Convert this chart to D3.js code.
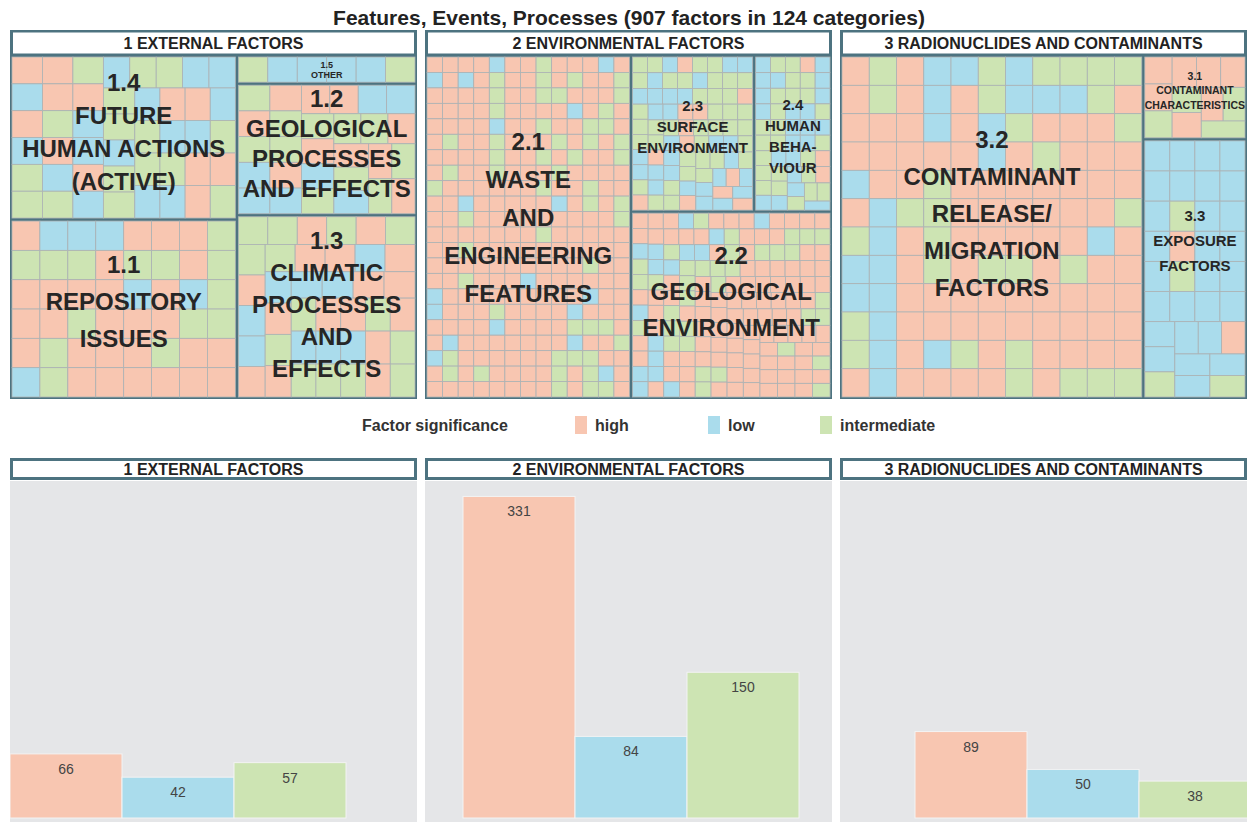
<!DOCTYPE html>
<html>
<head>
<meta charset="utf-8">
<script src="https://cdn.jsdelivr.net/npm/d3@7"></script>
<style>
    body { margin: 0; background: #fff; }
    svg { display: block; font-family: Arial, 'Liberation Sans', sans-serif; }
</style>
</head>
<body>
<div id="chart"></div>
<script>
// ---- data ----
const title = 'Features, Events, Processes (907 factors in 124 categories)'
const groups = ['1 EXTERNAL FACTORS', '2 ENVIRONMENTAL FACTORS', '3 RADIONUCLIDES AND CONTAMINANTS']
const significance = ['high', 'low', 'intermediate']
const highCounts = [66, 331, 89]
const lowCounts = [42, 84, 50]
const intermediateCounts = [57, 150, 38]

const subgroupLabels = {
    '1.1': ['1.1', 'REPOSITORY', 'ISSUES'],
    '1.2': ['1.2', 'GEOLOGICAL', 'PROCESSES', 'AND EFFECTS'],
    '1.3': ['1.3', 'CLIMATIC', 'PROCESSES', 'AND', 'EFFECTS'],
    '1.4': ['1.4', 'FUTURE', 'HUMAN ACTIONS', '(ACTIVE)'],
    '1.5': ['1.5', 'OTHER'],
    '2.1': ['2.1', 'WASTE', 'AND', 'ENGINEERING', 'FEATURES'],
    '2.2': ['2.2', 'GEOLOGICAL', 'ENVIRONMENT'],
    '2.3': ['2.3', 'SURFACE', 'ENVIRONMENT'],
    '2.4': ['2.4', 'HUMAN', 'BEHA-', 'VIOUR'],
    '3.1': ['3.1', 'CONTAMINANT', 'CHARACTERISTICS'],
    '3.2': ['3.2', 'CONTAMINANT', 'RELEASE/', 'MIGRATION', 'FACTORS'],
    '3.3': ['3.3', 'EXPOSURE', 'FACTORS']
}
// one letter per factor: H = high, L = low, I = intermediate
const factorCodes = {
    '1.1': 'HIHHHLL' + 'IHHIILL' + 'HHHIIHI' + 'HHHIIHI' + 'HHHHLHL' + 'IHHHHII' + 'IHHHHH',
    '1.2': 'IHILL' + 'HIIHL' + 'HHLLI' + 'HLIII' + 'HHILH' + 'IIH',
    '1.3': 'IIHIH' + 'IIHLL' + 'HIHHL' + 'HLHIH' + 'LLHHI' + 'LIHLI' + 'HIHLI' + 'HIHI',
    '1.4': 'HLHLIIH' + 'HIHLIIH' + 'LLHLLII' + 'LLIILII' + 'LHHLIIL' + 'LLIILHH' + 'HI',
    '1.5': 'ILLLLI',
    '2.1': 'HHHHLHHIHHHLH' + 'LHLHIHHIHIHHI' + 'HHHHIHHIIHHHI' + 'HHHHIHHHHLHIH' +
           'HHHHLHHIHHIIH' + 'HIHHIHHHIHIHI' + 'HHHHIHHIHIHHI' + 'HIHHIHHHIHHHH' +
           'IHHHHHHIHHIHH' + 'HHHHHHLLHHLHH' + 'HLHHHHHLHIHIH' + 'HHHHHHHLIIHIH' +
           'HHHHHHHHIHIHI' + 'HHHHHHHHHHHIH' + 'HHHHHHHHHHHHI' + 'HHHHHHHHHHHHH' +
           'ILHHHHHHHHHIH' + 'HHHHHHHHHLHHH' + 'HHHHHHHHHHHHH' + 'LHHHHHHHHHLHH' +
           'HHHIIIIIIHLIH' + 'HHHIIIIHHLIHH',
    '2.2': 'HHLIIHLIHHLL' + 'HHLIHHHLHHHH' + 'HLLIHHHLLLHH' + 'HHLIHHHIIIIL' +
           'HHIIIHHLLLHI' + 'HIIIHHIIIHII' + 'HHHIIIHHHHHH' + 'HHHHHHIIIHHH' +
           'HHHHHHHHHIHH' + 'HHHHHIHHHHHH' + 'HHHHIIHHHHHH' + 'HHHHHHHHIHHH' + 'HHHIHHHI',
    '2.3': 'IILHIILLIL' + 'IILIIILLLL' + 'IIIHIIILLI' + 'HLLHHIIIII' +
           'HLLIIHIIII' + 'LLLIIHILLI' + 'IILHIILIIL' + 'LLHLHLLH',
    '2.4': 'LIIHL' + 'LLIIL' + 'LIIIL' + 'LILLI' + 'IILLL' + 'IILLI' + 'IIILL' + 'LIHII' + 'LLIHL' + 'IIIL',
    '3.1': 'HHIHHHIHHII',
    '3.2': 'HIHLLILIIII' + 'HIHLHILLLI' + 'HHHLHILLII' + 'HHHLHLIHHH' + 'IHHLLLLLLL' +
           'HHHLHIHHHH' + 'IHHHHHHIHH' + 'HHHHHIIIHH' + 'LHHHHHHHIH' + 'HHHIHHHHHL' +
           'HIHHHHIHIH' + 'HHHIIHHHHH' + 'HHHHHHIHHII',
    '3.3': 'LLLLL' + 'LLLLI' + 'LLLHL' + 'LLILL' + 'LLLLL' + 'LILLH' + 'LLLI'
}
const codeNames = {H: 'high', L: 'low', I: 'intermediate'}

// ---- layout & styles ----
// how the subgroups are nested in each panel: columns / rows alternate by depth
const arrangement = [
    [['1.4', '1.1'], ['1.5', '1.2', '1.3']],
    ['2.1', [['2.3', '2.4'], '2.2']],
    ['3.2', ['3.1', '3.3']]
]

const teal = '#4d7380'
const color = d3.scaleOrdinal()
    .domain(significance)
    .range(['#f8c6b1', '#aadcec', '#cde4b3'])

// label size / line spacing / vertical nudge per subgroup
const labelStyle = {
    '1.1': [24, 37, -8], '1.2': [24, 30, -6], '1.3': [24, 32, -3], '1.4': [24, 33, -6],
    '1.5': [9, 10, 0], '2.1': [24, 38, -10], '2.2': [24, 36, -14], '2.3': [15, 21, -7],
    '2.4': [15, 21, 3], '3.1': [10.5, 14.5, -7], '3.2': [24, 37, -14], '3.3': [15, 25, -28]
}

const width = 1250
const height = 827
const panelX = [10, 425, 840]
const panelW = 407
const barShift = [0, 38, 75]

const svg = d3.select('#chart')
    .append('svg')
    .attr('width', width)
    .attr('height', height)

svg.append('text')
    .attr('x', 629)
    .attr('y', 25)
    .attr('text-anchor', 'middle')
    .attr('font-size', 21)
    .attr('font-weight', 'bold')
    .attr('fill', '#222')
    .text(title)

function build (item) {
    if (typeof item === 'string') {
        return {
            id: item,
            children: factorCodes[item].split('').map(c => ({sig: codeNames[c]}))
        }
    }
    return {children: item.map(build)}
}

function tile (node, x0, y0, x1, y1) {
    if (node.data.id) d3.treemapSquarify.ratio(1)(node, x0, y0, x1, y1)
    else if (node.depth % 2 === 0) d3.treemapDice(node, x0, y0, x1, y1)
    else d3.treemapSlice(node, x0, y0, x1, y1)
}

// ---- treemaps ----
groups.forEach((g, gi) => {
    const x0 = panelX[gi]
    const panel = svg.append('g')

    panel.append('rect')
        .attr('x', x0)
        .attr('y', 30)
        .attr('width', panelW)
        .attr('height', 369)
        .attr('fill', teal)

    panel.append('rect')
        .attr('x', x0 + 3)
        .attr('y', 32.5)
        .attr('width', panelW - 6)
        .attr('height', 21)
        .attr('fill', '#fff')

    panel.append('text')
        .attr('x', x0 + panelW / 2)
        .attr('y', 49)
        .attr('text-anchor', 'middle')
        .attr('font-size', 16)
        .attr('font-weight', 'bold')
        .attr('fill', '#222')
        .text(g)

    const root = d3.hierarchy(build(arrangement[gi]))
        .sum(d => d.children ? 0 : 1)

    d3.treemap()
        .size([panelW - 4, 340])
        .tile(tile)
        .paddingInner(n => n.data.id ? 0 : 3)(root)

    const tm = panel.append('g')
        .attr('transform', `translate(${x0 + 2}, 57)`)

    tm.selectAll('rect.cell')
        .data(root.leaves())
        .join('rect')
        .attr('class', 'cell')
        .attr('x', d => d.x0)
        .attr('y', d => d.y0)
        .attr('width', d => d.x1 - d.x0)
        .attr('height', d => d.y1 - d.y0)
        .attr('fill', d => color(d.data.sig))
        .attr('stroke', '#adb3b5')
        .attr('stroke-width', 0.8)

    root.descendants().filter(d => d.data.id).forEach(node => {
        const id = node.data.id
        const [size, lead, nudge] = labelStyle[id]
        const lines = subgroupLabels[id]
        const cx = (node.x0 + node.x1) / 2
        const cy = (node.y0 + node.y1) / 2 + nudge
        tm.append('g')
            .selectAll('text')
            .data(lines)
            .join('text')
            .attr('x', cx)
            .attr('y', (d, k) => cy + (k - (lines.length - 1) / 2) * lead)
            .attr('dy', '0.36em')
            .attr('text-anchor', 'middle')
            .attr('font-size', size)
            .attr('font-weight', 'bold')
            .attr('fill', '#262626')
            .text(d => d)
    })
})

// ---- legend ----
const legend = svg.append('g')
legend.append('text')
    .attr('x', 362)
    .attr('y', 431)
    .attr('font-size', 16)
    .attr('font-weight', 'bold')
    .attr('fill', '#333')
    .text('Factor significance')

const legendX = [575, 708, 820]
significance.forEach((s, i) => {
    legend.append('rect')
        .attr('x', legendX[i])
        .attr('y', 416)
        .attr('width', 12)
        .attr('height', 18)
        .attr('fill', color(s))
    legend.append('text')
        .attr('x', legendX[i] + 20)
        .attr('y', 431)
        .attr('font-size', 16)
        .attr('font-weight', 'bold')
        .attr('fill', '#333')
        .text(s)
})

// ---- bar charts ----
const y = d3.scaleLinear()
    .domain([0, 350])
    .range([818, 478])

groups.forEach((g, gi) => {
    const x0 = panelX[gi]
    const values = [highCounts[gi], lowCounts[gi], intermediateCounts[gi]]
    const panel = svg.append('g')

    panel.append('clipPath')
        .attr('id', `clip${gi}`)
        .append('rect')
        .attr('x', x0)
        .attr('y', 481)
        .attr('width', panelW)
        .attr('height', 341)

    panel.append('rect')
        .attr('x', x0)
        .attr('y', 481)
        .attr('width', panelW)
        .attr('height', 341)
        .attr('fill', '#e5e6e8')

    panel.append('rect')
        .attr('x', x0 + 1.5)
        .attr('y', 459.5)
        .attr('width', panelW - 3)
        .attr('height', 19)
        .attr('fill', '#fff')
        .attr('stroke', teal)
        .attr('stroke-width', 3)

    panel.append('text')
        .attr('x', x0 + panelW / 2)
        .attr('y', 475)
        .attr('text-anchor', 'middle')
        .attr('font-size', 16)
        .attr('font-weight', 'bold')
        .attr('fill', '#222')
        .text(g)

    const x = d3.scaleBand()
        .domain(significance)
        .range([x0 + barShift[gi], x0 + barShift[gi] + 336])

    const bars = panel.append('g')
        .attr('clip-path', `url(#clip${gi})`)

    bars.selectAll('rect')
        .data(values)
        .join('rect')
        .attr('x', (d, i) => x(significance[i]))
        .attr('y', d => y(d))
        .attr('width', x.bandwidth())
        .attr('height', d => y(0) - y(d))
        .attr('fill', (d, i) => color(significance[i]))
        .attr('stroke', '#f3f3f3')
        .attr('stroke-width', 1)

    bars.selectAll('text')
        .data(values)
        .join('text')
        .attr('x', (d, i) => x(significance[i]) + x.bandwidth() / 2)
        .attr('y', d => y(d) + 20)
        .attr('text-anchor', 'middle')
        .attr('font-size', 14)
        .attr('fill', '#444')
        .text(d => d)
})
</script>
</body>
</html>
